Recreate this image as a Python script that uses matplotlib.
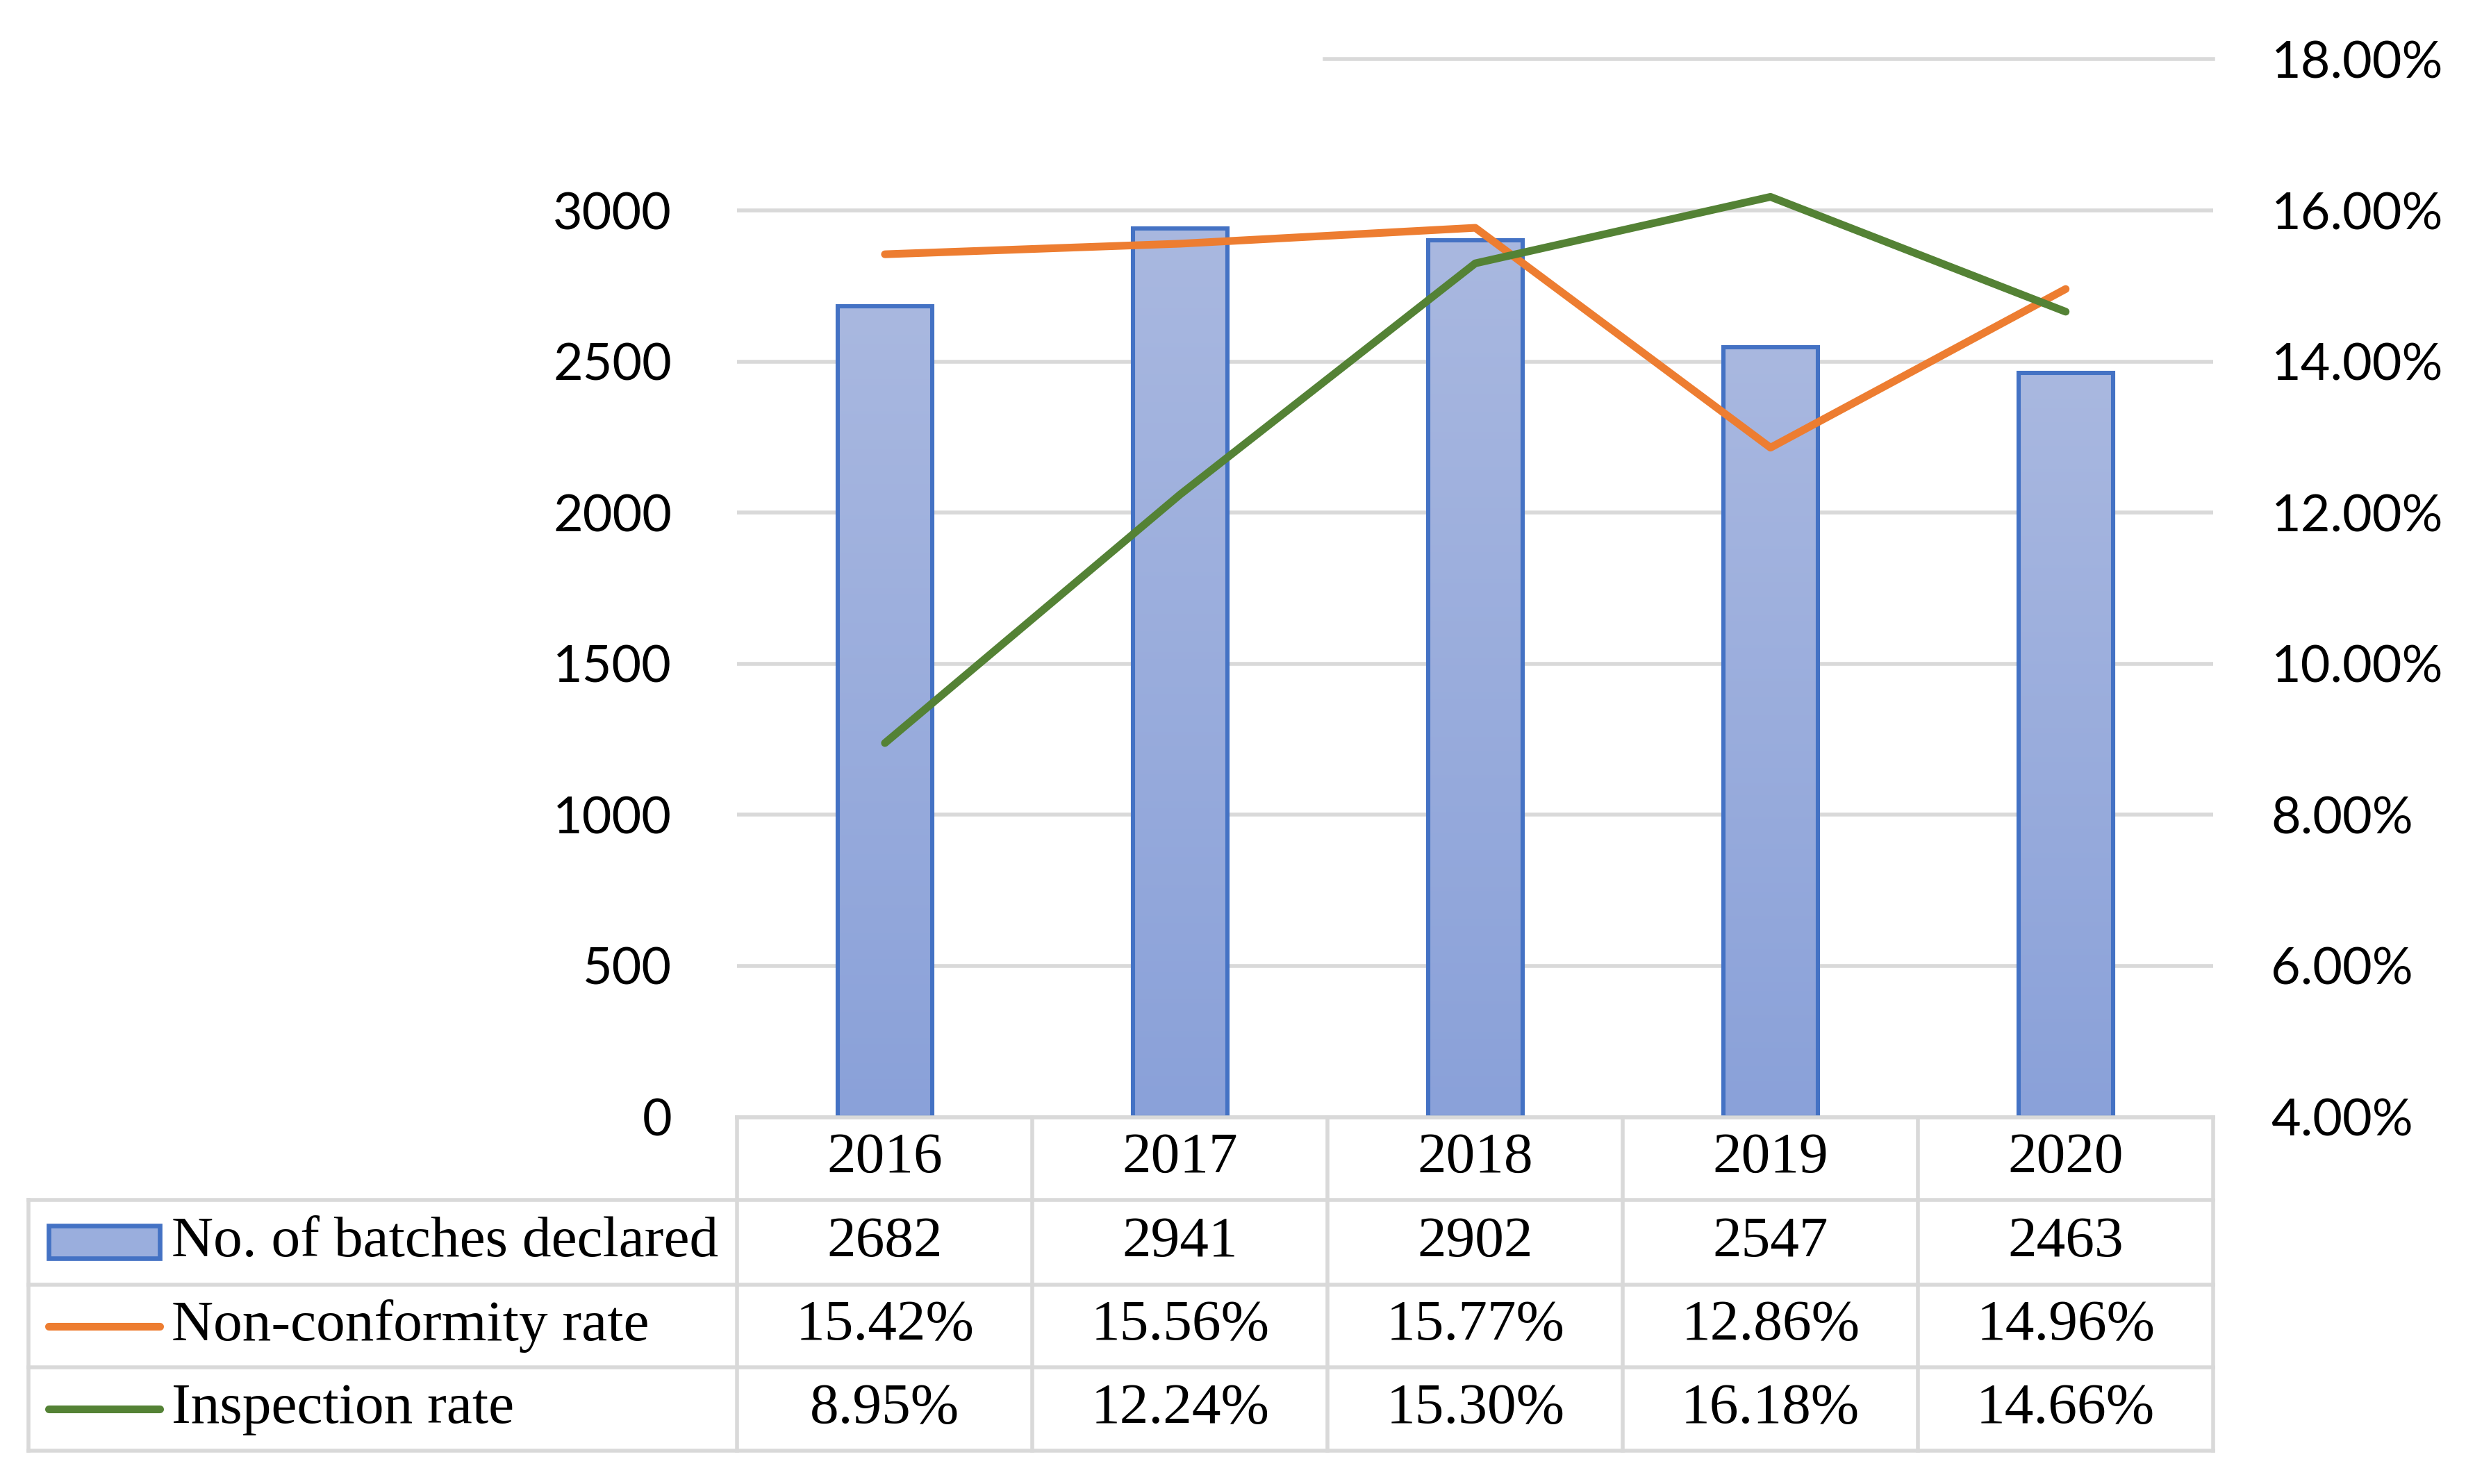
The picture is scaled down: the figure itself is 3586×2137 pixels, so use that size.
import numpy as np
import matplotlib
matplotlib.use("Agg")
import matplotlib.pyplot as plt
from matplotlib.colors import LinearSegmentedColormap
from matplotlib.patches import Rectangle
from matplotlib.lines import Line2D

# data
years = ["2016", "2017", "2018", "2019", "2020"]
batches = [2682, 2941, 2902, 2547, 2463]
nonconf = [15.42, 15.56, 15.77, 12.86, 14.96]
inspect = [8.95, 12.24, 15.30, 16.18, 14.66]
row_names = ["No. of batches declared", "Non-conformity rate", "Inspection rate"]
left_ticks = [0, 500, 1000, 1500, 2000, 2500, 3000]
right_ticks = [4, 6, 8, 10, 12, 14, 16, 18]

blue_edge = "#4472C4"
orange = "#ED7D31"
green = "#548235"
grid_c = "#D9D9D9"
glw = 2.0   # grid / table line width
llw = 4.0   # series line width

fig = plt.figure(figsize=(17.93, 10.685), dpi=200)
L, R, B, T = 0.296, 0.8885, 0.2473, 0.960
ax = fig.add_axes([L, B, R - L, T - B])
ax2 = ax.twinx()

x = np.arange(len(years))
bars = ax.bar(x, batches, width=0.32, color="none", edgecolor=blue_edge,
              linewidth=2.2, zorder=3)

# vertical gradient fill inside each bar
cmap = LinearSegmentedColormap.from_list("barfill", ["#8AA1D9", "#A9B8E0"])
grad = np.linspace(0, 1, 256).reshape(-1, 1)
for b in bars:
    x0, w, h = b.get_x(), b.get_width(), b.get_height()
    im = ax.imshow(grad, extent=[x0, x0 + w, 0, h], origin="lower",
                   aspect="auto", cmap=cmap, zorder=2)
    im.set_clip_path(b)

ax.set_xlim(-0.5, len(years) - 0.5)
ax.set_ylim(0, 3500)
ax.set_yticks(left_ticks)
ax.set_xticks([])
for t in left_ticks[1:]:
    ax.axhline(t, color=grid_c, lw=glw, zorder=1)
ax.axhline(3500, xmin=0.398, xmax=1, color=grid_c, lw=glw, zorder=1, clip_on=False)

ax2.plot(x, nonconf, color=orange, lw=llw, solid_capstyle="round", zorder=4)
ax2.plot(x, inspect, color=green, lw=llw, solid_capstyle="round", zorder=4)
ax2.set_ylim(4, 18)
ax2.set_yticks(right_ticks)
ax2.set_yticklabels([f"{v:.2f}%" for v in right_ticks])

for a in (ax, ax2):
    for s in ("top", "left", "right"):
        a.spines[s].set_visible(False)
    a.spines["bottom"].set_color(grid_c)
    a.spines["bottom"].set_linewidth(glw)
    a.tick_params(length=0, labelsize=26.5)
    for lab in a.get_yticklabels():
        lab.set_fontfamily("Lato")
ax.tick_params(axis="y", pad=34)
ax2.tick_params(axis="y", pad=30)

# data table under the plot
serif = "Liberation Serif"
fs = 30
tl = 0.0115
row_y = [0.2473, 0.1914, 0.1344, 0.0785, 0.0226]
row_c = [(row_y[i] + row_y[i + 1]) / 2 for i in range(4)]
cw = (R - L) / len(years)
lk = dict(color=grid_c, lw=glw, transform=fig.transFigure)

for yy in row_y[1:]:
    fig.add_artist(Line2D([tl, R], [yy, yy], **lk))
for i in range(len(years) + 1):
    xx = L + i * cw
    fig.add_artist(Line2D([xx, xx], [row_y[0], row_y[-1]], **lk))
fig.add_artist(Line2D([tl, tl], [row_y[1], row_y[-1]], **lk))

for i, yr in enumerate(years):
    xc = L + (i + 0.5) * cw
    fig.text(xc, row_c[0], yr, ha="center", va="center", fontsize=fs, family=serif)
    fig.text(xc, row_c[1], str(batches[i]), ha="center", va="center", fontsize=fs, family=serif)
    fig.text(xc, row_c[2], f"{nonconf[i]:.2f}%", ha="center", va="center", fontsize=fs, family=serif)
    fig.text(xc, row_c[3], f"{inspect[i]:.2f}%", ha="center", va="center", fontsize=fs, family=serif)

kx0, kx1 = 0.0195, 0.0640
kh = 0.022
key = Rectangle((kx0, row_c[1] - kh / 2), kx1 - kx0, kh, transform=fig.transFigure,
                facecolor="#9AAEDD", edgecolor=blue_edge, lw=2.4)
fig.add_artist(key)
fig.add_artist(Line2D([kx0, kx1], [row_c[2], row_c[2]], color=orange, lw=llw,
                      solid_capstyle="round", transform=fig.transFigure))
fig.add_artist(Line2D([kx0, kx1], [row_c[3], row_c[3]], color=green, lw=llw,
                      solid_capstyle="round", transform=fig.transFigure))
for j, name in enumerate(row_names):
    fig.text(0.069, row_c[j + 1], name, ha="left", va="center", fontsize=fs, family=serif)

fig.savefig("out.png", dpi=200, facecolor="white")
